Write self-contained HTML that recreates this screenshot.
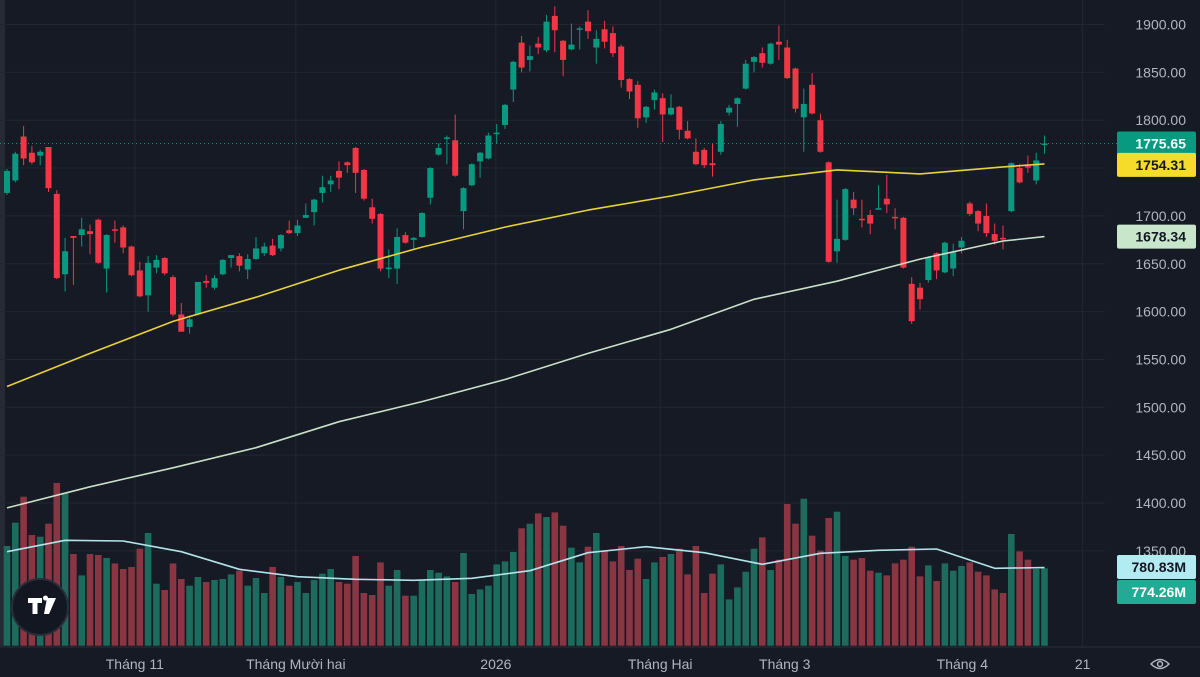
<!DOCTYPE html>
<html><head><meta charset="utf-8"><style>
body{margin:0;background:#161a25;overflow:hidden}
svg{display:block;font-family:"Liberation Sans",sans-serif}
</style></head><body>
<svg id="c" width="1200" height="677" xmlns="http://www.w3.org/2000/svg">
<rect width="1200" height="677" fill="#161a25"/>
<rect x="0" y="0" width="5" height="646" fill="#262a35"/>
<g id="grid"></g>
<g id="vol"></g>
<g id="candles"></g>
<g id="lines"></g>
<g id="axes"></g>
<g>
<circle cx="40" cy="607" r="28" fill="#131722" stroke="#2a2e39" stroke-width="2"/>
<path d="M28 598h14v5h-4.5v11h-5v-11h-4.5z M47 598h9l-7 16h-5z M43 598a2.5 2.5 0 1 1 0 .1z" fill="#fff"/>
</g>
<g transform="translate(1160,664)">
<path d="M-9 0 Q0 -9 9 0 Q0 9 -9 0z" fill="none" stroke="#b2b5be" stroke-width="1.5"/>
<circle r="2.5" fill="none" stroke="#b2b5be" stroke-width="1.5"/>
</g>
</svg>
<script>
const opens=[1724,1737,1783,1766,1763,1772,1723,1639,1679,1680,1684,1696,1645,1686,1688,1668,1643,1617,1646,1656,1636,1597,1584,1597,1632,1625,1639,1656,1658,1644,1655,1661,1669,1666,1685,1682,1698,1704,1724,1733,1747,1756,1771,1748,1709,1702,1645,1645,1680,1675,1678,1719,1764,1781,1779,1705,1732,1757,1760,1786,1795,1832,1881,1863,1880,1873,1909,1883,1874,1895,1903,1876,1895,1891,1877,1843,1837,1803,1821,1823,1806,1814,1789,1767,1769,1755,1767,1808,1817,1833,1861,1870,1859,1882,1876,1854,1803,1837,1800,1756,1663,1675,1717,1697,1701,1707,1718,1699,1698,1629,1625,1633,1661,1641,1645,1667,1713,1705,1700,1681,1677,1705,1750,1752,1737,1775];
const highs=[1749,1767,1794,1773,1769,1772,1727,1677,1679,1698,1691,1697,1681,1695,1690,1669,1652,1658,1659,1657,1638,1609,1596,1631,1638,1638,1655,1659,1661,1660,1678,1672,1676,1681,1695,1696,1713,1718,1742,1742,1757,1757,1772,1749,1718,1703,1665,1687,1683,1678,1704,1751,1776,1784,1806,1730,1755,1767,1787,1796,1817,1862,1888,1878,1887,1910,1919,1884,1901,1898,1915,1894,1904,1898,1879,1844,1841,1815,1832,1828,1827,1815,1799,1781,1771,1776,1799,1816,1824,1863,1867,1876,1881,1899,1884,1855,1833,1849,1807,1757,1717,1729,1725,1717,1706,1732,1743,1708,1699,1636,1630,1658,1662,1673,1671,1678,1715,1706,1713,1692,1690,1756,1754,1763,1766,1784];
const lows=[1722,1735,1753,1754,1753,1725,1634,1621,1628,1668,1660,1650,1620,1672,1661,1637,1615,1600,1640,1638,1595,1579,1577,1596,1625,1623,1638,1646,1642,1634,1654,1658,1658,1663,1681,1679,1698,1690,1714,1725,1728,1745,1724,1716,1692,1642,1635,1629,1671,1665,1677,1712,1763,1754,1741,1686,1731,1740,1759,1775,1791,1819,1850,1851,1869,1871,1871,1846,1873,1874,1885,1859,1875,1866,1834,1822,1792,1797,1811,1777,1805,1780,1780,1753,1750,1741,1764,1805,1793,1832,1850,1855,1858,1863,1843,1808,1767,1806,1766,1651,1651,1674,1701,1688,1681,1707,1703,1686,1645,1587,1602,1630,1634,1640,1637,1661,1700,1684,1678,1670,1665,1704,1734,1745,1733,1765];
const closes=[1747,1765,1760,1756,1767,1729,1635,1663,1677,1686,1681,1651,1680,1685,1667,1638,1616,1651,1654,1640,1597,1579,1592,1631,1630,1635,1654,1659,1648,1655,1666,1668,1659,1680,1682,1690,1701,1717,1730,1737,1740,1753,1745,1718,1697,1645,1646,1678,1672,1677,1703,1750,1771,1782,1742,1729,1754,1766,1784,1787,1816,1861,1855,1867,1876,1903,1894,1863,1879,1896,1893,1885,1882,1870,1842,1830,1802,1814,1829,1806,1813,1790,1781,1754,1753,1753,1796,1813,1823,1859,1866,1860,1880,1879,1844,1812,1817,1807,1767,1652,1676,1728,1708,1696,1692,1708,1712,1698,1646,1590,1613,1657,1643,1672,1662,1674,1702,1692,1682,1674,1676,1755,1735,1751,1758,1775.65];
const volumes=[997,1230,1490,1107,1090,1220,1627,1530,917,703,917,907,877,823,767,787,970,1127,620,557,823,667,600,687,637,657,667,713,750,600,677,527,787,687,600,637,527,657,720,767,637,620,897,527,507,833,600,757,500,500,657,757,730,693,637,927,517,563,600,813,843,937,1174,1220,1323,1287,1333,1200,980,833,990,1127,947,843,997,757,870,667,833,887,917,970,713,997,527,720,813,463,583,740,970,1083,757,860,1417,1220,1470,1100,950,1277,1340,897,860,877,750,730,703,823,860,990,693,803,647,823,750,797,833,740,703,563,527,1117,943,860,767,774.26];
const maIdx=[1,11,21,31,41,51,61,71,81,91,101,111,121,126];
const ma50=[1521.7,1556.3,1589.8,1615,1643.3,1667.4,1688.3,1706.1,1720.8,1737.6,1748.1,1743.9,1751.2,1754.31];
const ma200=[1394.9,1416.9,1436.8,1457.8,1485,1506,1529.1,1556.3,1581.5,1612.9,1631.8,1654.9,1673.8,1678.34];
const volMaIdx=[1,8,15,22,29,36,43,50,57,64,71,78,85,92,99,106,113,120,126];
const volMa=[940,1054,1047,940,764,690,664,654,674,750,930,990,930,814,924,954,967,774,780.83];
const priceTicks=[1900,1850,1800,1750,1700,1650,1600,1550,1500,1450,1400,1350];
const timeLabels=["Tháng 11","Tháng Mười hai","2026","Tháng Hai","Tháng 3","Tháng 4","21"];
const timeIdx=[16.4,35.8,59.9,79.7,94.7,116.1,130.6];

const NS="http://www.w3.org/2000/svg";
const X=i=>7+8.3*(i-1);
const Y=p=>24.5+(1900-p)*0.957;
const VB=645.7, VY=v=>VB-v*0.1;
function mk(tag,attrs,parent){const e=document.createElementNS(NS,tag);for(const k in attrs)e.setAttribute(k,attrs[k]);parent.appendChild(e);return e;}
const grid=document.getElementById('grid'),vol=document.getElementById('vol'),cg=document.getElementById('candles'),lg=document.getElementById('lines'),ax=document.getElementById('axes');

priceTicks.forEach(p=>{
  const l=mk('line',{x1:0,x2:1105,y1:Y(p),y2:Y(p),stroke:'#22262f','stroke-width':1},grid);
  
  
  const t=mk('text',{x:1186,y:Y(p)+5,'text-anchor':'end','font-size':14,fill:'#b2b5be'},ax);
  t.textContent=p.toFixed(2);
  
  
});
timeLabels.forEach((s,k)=>{
  const x=X(timeIdx[k]);
  const l=mk('line',{x1:x,x2:x,y1:0,y2:646,stroke:'#22262f','stroke-width':1},grid);
  
  
  const t=mk('text',{x:x,y:669,'text-anchor':'middle','font-size':14,fill:'#b2b5be'},ax);
  t.textContent=s;
  
  
});
const sep=mk('line',{x1:0,x2:1200,y1:647,y2:647,stroke:'#2a2e39'},ax);



volumes.forEach((v,k)=>{
  const up=closes[k]>=opens[k];
  const r=mk('rect',{x:X(k+1)-3.3,y:VY(v),width:6.6,height:v*0.1,fill:up?'#1c6b5d':'#8a3542'},vol);
  
  
});
opens.forEach((o,k)=>{
  const c=closes[k],up=c>=o,col=up?'#089981':'#f23645',x=X(k+1);
  const w=mk('line',{x1:x,x2:x,y1:Y(highs[k]),y2:Y(lows[k]),stroke:col,'stroke-width':1},cg);
  
  
  const top=Y(Math.max(o,c)),h=Math.max(1.5,Math.abs(Y(o)-Y(c)));
  const b=mk('rect',{x:x-3,y:top,width:6,height:h,fill:col},cg);
  
  
});
function poly(idx,vals,yf,col,name){
  const pts=idx.map((i,k)=>X(i).toFixed(1)+','+yf(vals[k]).toFixed(1)).join(' ');
  const p=mk('polyline',{points:pts,fill:'none',stroke:col,'stroke-width':1.6,'stroke-linejoin':'round'},lg);
  
  
}
poly(maIdx,ma50,Y,'#e8d23a','ma-yellow-line');
poly(maIdx,ma200,Y,'#c8e0c8','ma-white-line');
poly(volMaIdx,volMa,VY,'#b2e3ea','volume-ma-line');

const last=closes[closes.length-1];
const dl=mk('line',{x1:0,x2:1117,y1:Y(last),y2:Y(last),stroke:'#089981','stroke-dasharray':'1 3','stroke-width':1},lg);



function badge(yc,txt,bg,fg,name){
  const g=mk('g',{},ax);
  
  
  mk('rect',{x:1117,y:yc-12,width:79,height:24,rx:2,fill:bg},g);
  const t=mk('text',{x:1186,y:yc+5,'text-anchor':'end','font-size':14,'font-weight':'bold',fill:fg},g);
  t.textContent=txt;
}
badge(Y(last),last.toFixed(2),'#089981','#fff','last-price-label');
badge(Y(ma50[ma50.length-1])+1,ma50[ma50.length-1].toFixed(2),'#f5dc2b','#131722','ma-yellow-label');
badge(Y(ma200[ma200.length-1]),ma200[ma200.length-1].toFixed(2),'#c8e6c9','#131722','ma-white-label');
badge(567,volMa[volMa.length-1].toFixed(2)+'M','#b2ebf2','#131722','volume-ma-label');
badge(592,volumes[volumes.length-1].toFixed(2)+'M','#22ab94','#fff','volume-label');
</script>
</body></html>
